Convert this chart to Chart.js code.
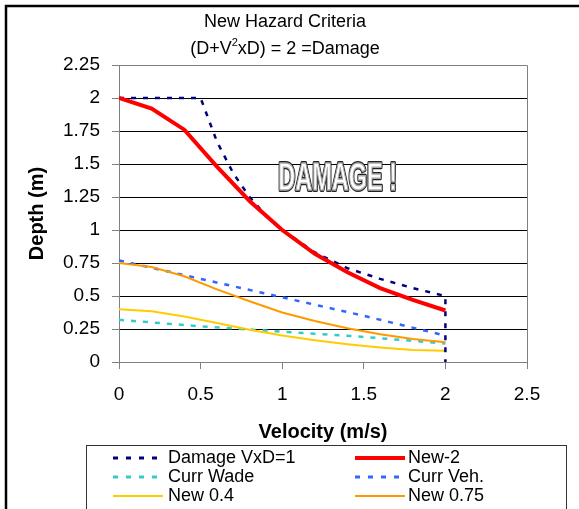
<!DOCTYPE html>
<html>
<head>
<meta charset="utf-8">
<script src="https://cdn.jsdelivr.net/npm/chart.js@4.4.0/dist/chart.umd.min.js"></script>
<style>
  body { margin: 0; background: #fff; }
  canvas { display: block; }
</style>
</head>
<body>
<canvas id="myChart" width="579" height="509"></canvas>
<script>
// axis ticks
const xTicks = [0, 0.5, 1, 1.5, 2, 2.5];
const xTickLabels = ['0', '0.5', '1', '1.5', '2', '2.5'];
const yTicks = [0, 0.25, 0.5, 0.75, 1, 1.25, 1.5, 1.75, 2, 2.25];
const yTickLabels = ['0', '0.25', '0.5', '0.75', '1', '1.25', '1.5', '1.75', '2', '2.25'];

// series (velocity m/s, depth m)
const damageV = [0, 0.5, 0.6, 0.7, 0.8, 0.9, 1.0, 1.2, 1.4, 1.6, 1.8, 2.0, 2.0];
const damageD = [2, 2, 1.67, 1.43, 1.25, 1.11, 1.0, 0.83, 0.71, 0.63, 0.56, 0.5, 0];

const newV = [0, 0.2, 0.4, 0.6, 0.8, 1.0, 1.2, 1.4, 1.6, 1.8, 2.0];
const new2D = [2, 1.92, 1.76, 1.48, 1.22, 1.0, 0.82, 0.68, 0.56, 0.47, 0.39];
const new04D = [0.4, 0.385, 0.345, 0.295, 0.245, 0.2, 0.165, 0.135, 0.11, 0.09, 0.085];
const new075D = [0.75, 0.72, 0.65, 0.55, 0.46, 0.375, 0.31, 0.255, 0.21, 0.175, 0.15];

const currV = [0, 0.5, 1, 1.5, 2];
const currWadeD = [0.32, 0.27, 0.23, 0.19, 0.14];
const currVehD = [0.77, 0.63, 0.49, 0.35, 0.2];

const FONT = "'Liberation Sans', Arial, sans-serif";
const GRAY = '#808080';

function pts (xs, ys) {
  return xs.map((x, i) => ({ x: x, y: ys[i] }));
}

const datasets = [
  { label: 'Damage VxD=1', data: pts(damageV, damageD), borderColor: '#000080', borderWidth: 2.5, borderDash: [5, 7], order: 1 },
  { label: 'New-2', data: pts(newV, new2D), borderColor: '#ff0000', borderWidth: 4, order: 0 },
  { label: 'Curr Wade', data: pts(currV, currWadeD), borderColor: '#33cccc', borderWidth: 2.5, borderDash: [5, 7], order: 5 },
  { label: 'Curr Veh.', data: pts(currV, currVehD), borderColor: '#3366ff', borderWidth: 2.5, borderDash: [5, 7], order: 4 },
  { label: 'New 0.4', data: pts(newV, new04D), borderColor: '#ffcc00', borderWidth: 2, order: 3 },
  { label: 'New 0.75', data: pts(newV, new075D), borderColor: '#ff9900', borderWidth: 2, order: 2 }
];

const extras = {
  id: 'extras',
  beforeDraw (chart) {
    const ctx = chart.ctx;
    ctx.save();
    ctx.fillStyle = '#fff';
    ctx.fillRect(0, 0, chart.width, chart.height);
    ctx.restore();
  },
  beforeDatasetsDraw (chart) {
    const ctx = chart.ctx;
    const a = chart.chartArea;
    ctx.save();
    ctx.strokeStyle = GRAY;
    ctx.lineWidth = 1;
    ctx.beginPath();
    ctx.moveTo(a.left, Math.round(a.top) + 0.5);
    ctx.lineTo(Math.round(a.right) + 0.5, Math.round(a.top) + 0.5);
    ctx.lineTo(Math.round(a.right) + 0.5, a.bottom);
    ctx.stroke();
    ctx.restore();
  },
  afterDraw (chart) {
    const ctx = chart.ctx;
    const a = chart.chartArea;
    const xs = chart.scales.x;
    const ys = chart.scales.y;
    ctx.save();

    // title
    ctx.fillStyle = '#000';
    ctx.textBaseline = 'alphabetic';
    ctx.textAlign = 'left';
    ctx.font = '18px ' + FONT;
    const t1 = 'New Hazard Criteria';
    ctx.fillText(t1, 285 - ctx.measureText(t1).width / 2, 27);
    const p1 = '(D+V', p3 = 'xD) = 2 =Damage';
    const w1 = ctx.measureText(p1).width;
    const w3 = ctx.measureText(p3).width;
    ctx.font = '11px ' + FONT;
    const w2 = ctx.measureText('2').width;
    let x0 = 285 - (w1 + w2 + w3) / 2;
    ctx.font = '18px ' + FONT;
    ctx.fillText(p1, x0, 54);
    ctx.font = '11px ' + FONT;
    ctx.fillText('2', x0 + w1, 46);
    ctx.font = '18px ' + FONT;
    ctx.fillText(p3, x0 + w1 + w2, 54);

    // axis titles
    ctx.font = 'bold 20px ' + FONT;
    ctx.textAlign = 'center';
    ctx.textBaseline = 'middle';
    ctx.fillText('Velocity (m/s)', (a.left + a.right) / 2, 432);
    ctx.save();
    ctx.translate(37, (a.top + a.bottom) / 2);
    ctx.rotate(-Math.PI / 2);
    ctx.fillText('Depth (m)', 0, 0);
    ctx.restore();

    // DAMAGE ! annotation
    ctx.save();
    ctx.translate(xs.getPixelForValue(1.34), ys.getPixelForValue(1.39));
    ctx.font = 'bold 39px ' + FONT;
    const dw = ctx.measureText('DAMAGE !').width;
    ctx.scale(119 / dw, 1);
    ctx.textAlign = 'center';
    ctx.textBaseline = 'middle';
    ctx.lineJoin = 'round';
    ctx.strokeStyle = '#222';
    ctx.lineWidth = 4;
    ctx.strokeText('DAMAGE !', 0, 1);
    ctx.fillStyle = '#fff';
    ctx.fillText('DAMAGE !', 0, 1);
    ctx.strokeStyle = '#aaa';
    ctx.lineWidth = 1.5;
    ctx.strokeText('DAMAGE !', 0, 1);
    ctx.restore();

    // legend box
    ctx.strokeStyle = '#333';
    ctx.lineWidth = 1;
    ctx.strokeRect(86.5, 445.5, 480, 80);
    ctx.font = '18px ' + FONT;
    ctx.textAlign = 'left';
    ctx.textBaseline = 'middle';
    const cols = [[113, 163, 168], [355, 405, 408]];
    const rows = [458, 477, 496];
    chart.data.datasets.forEach((ds, i) => {
      const c = cols[i % 2];
      const y = rows[Math.floor(i / 2)];
      ctx.save();
      ctx.strokeStyle = ds.borderColor;
      ctx.lineWidth = ds.borderDash ? 3 : ds.borderWidth;
      ctx.setLineDash(ds.borderDash ? [5, 8] : []);
      ctx.beginPath();
      ctx.moveTo(c[0], y);
      ctx.lineTo(c[1], y);
      ctx.stroke();
      ctx.restore();
      ctx.fillStyle = '#000';
      ctx.fillText(ds.label, c[2], y);
    });

    // outer frame
    ctx.strokeStyle = '#000';
    ctx.lineWidth = 2.5;
    ctx.beginPath();
    ctx.moveTo(6, 509);
    ctx.lineTo(6, 6);
    ctx.lineTo(579, 6);
    ctx.stroke();
    ctx.restore();
  }
};

const chart = new Chart(document.getElementById('myChart'), {
  type: 'line',
  data: { datasets: datasets },
  options: {
    responsive: false,
    animation: false,
    events: [],
    layout: { padding: { left: 0, top: 65, right: 52, bottom: 0 } },
    elements: {
      point: { radius: 0 },
      line: { tension: 0, fill: false, borderCapStyle: 'butt' }
    },
    plugins: {
      legend: { display: false },
      tooltip: { enabled: false },
      title: { display: false }
    },
    scales: {
      x: {
        type: 'linear',
        min: 0,
        max: 2.5,
        afterFit: s => { s.height = 147; },
        afterBuildTicks: s => { s.ticks = xTicks.map(v => ({ value: v })); },
        ticks: {
          padding: 14,
          color: '#000',
          font: { family: FONT, size: 19 },
          maxRotation: 0,
          callback: (v) => xTickLabels[xTicks.indexOf(v)]
        },
        grid: { drawOnChartArea: false, drawTicks: true, tickLength: 7, tickColor: GRAY },
        border: { color: GRAY, width: 1 }
      },
      y: {
        type: 'linear',
        min: 0,
        max: 2.25,
        afterFit: s => { s.width = 119; },
        afterBuildTicks: s => { s.ticks = yTicks.map(v => ({ value: v })); },
        ticks: {
          padding: 12,
          color: '#000',
          font: { family: FONT, size: 19 },
          callback: (v) => yTickLabels[yTicks.indexOf(v)]
        },
        grid: {
          color: c => (c.tick && (c.tick.value === 2.25 || c.tick.value === 0)) ? GRAY : '#000',
          lineWidth: 1,
          tickLength: 7,
          tickColor: GRAY
        },
        border: { color: GRAY, width: 1 }
      }
    }
  },
  plugins: [extras]
});
</script>
</body>
</html>
